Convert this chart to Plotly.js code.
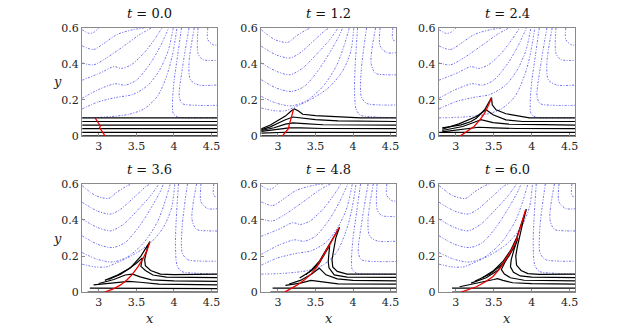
<!DOCTYPE html>
<html>
<head>
<meta charset="utf-8">
<script src="https://cdn.plot.ly/plotly-3.0.1.min.js"></script>
<style>body{margin:0;background:#fff}#myViz{width:635px;height:329px}</style>
</head>
<body>
<div id="myViz"></div>
<script>
// snapshot times, one panel each
var times = ['0.0', '1.2', '2.4', '3.6', '4.8', '6.0'];
var xTicks = [3, 3.5, 4, 4.5];
var yTicks = [0, 0.2, 0.4, 0.6];

// blue field lines, wavy state (t = 0.0, 2.4, 4.8)
var blueWavy = [
  [[2.78,0.59],[2.87,0.57],[2.93,0.575],[3.0,0.6]],
  [[2.78,0.5],[2.93,0.48],[3.07,0.515],[3.24,0.563],[3.45,0.59],[3.6,0.6]],
  [[2.78,0.405],[2.93,0.395],[3.09,0.43],[3.25,0.475],[3.4,0.52],[3.55,0.565],[3.7,0.6]],
  [[2.78,0.31],[3.02,0.35],[3.2,0.385],[3.3,0.375],[3.43,0.395],[3.6,0.46],[3.73,0.53],[3.84,0.6]],
  [[2.78,0.21],[3.02,0.262],[3.22,0.29],[3.35,0.282],[3.5,0.31],[3.68,0.4],[3.82,0.5],[3.93,0.6]],
  [[2.78,0.15],[3.0,0.19],[3.25,0.215],[3.45,0.23],[3.65,0.28],[3.8,0.36],[3.92,0.47],[3.99,0.6]],
  [[2.78,0.1],[3.1,0.105],[3.4,0.12],[3.6,0.15],[3.78,0.22],[3.9,0.33],[3.98,0.45],[4.04,0.6]]
];
var rightWavy = [
  [[4.1,0.6],[4.05,0.45],[4.0,0.3],[3.98,0.18],[3.99,0.125],[4.05,0.105],[4.3,0.1],[4.58,0.1]],
  [[4.2,0.6],[4.11,0.37],[4.07,0.22],[4.11,0.18],[4.29,0.17],[4.58,0.17]],
  [[4.27,0.6],[4.2,0.404],[4.22,0.311],[4.33,0.283],[4.58,0.283]],
  [[4.32,0.6],[4.32,0.46],[4.38,0.425],[4.58,0.42]],
  [[4.45,0.6],[4.45,0.535],[4.52,0.507],[4.58,0.505]]
];

// blue field lines, dipped state (t = 1.2, 3.6, 6.0)
var blueDip = [
  [[2.78,0.59],[2.96,0.535],[3.13,0.52],[3.24,0.554],[3.38,0.59],[3.44,0.6]],
  [[2.78,0.498],[2.98,0.45],[3.16,0.433],[3.29,0.46],[3.47,0.526],[3.64,0.59],[3.69,0.6]],
  [[2.78,0.405],[2.98,0.359],[3.16,0.34],[3.33,0.377],[3.51,0.452],[3.69,0.535],[3.8,0.6]],
  [[2.78,0.312],[2.98,0.266],[3.18,0.247],[3.35,0.275],[3.53,0.36],[3.7,0.47],[3.82,0.56],[3.86,0.6]],
  [[2.78,0.219],[2.98,0.182],[3.18,0.167],[3.38,0.195],[3.6,0.275],[3.78,0.39],[3.88,0.5],[3.95,0.6]],
  [[2.78,0.155],[2.95,0.14],[3.1,0.14],[3.25,0.165],[3.45,0.205],[3.68,0.27],[3.86,0.36],[3.97,0.47],[4.01,0.6]]
];
var rightDip = [
  [[4.06,0.6],[4.03,0.4],[4.02,0.27],[4.04,0.15],[4.1,0.115],[4.3,0.105],[4.58,0.1]],
  [[4.18,0.6],[4.11,0.367],[4.11,0.218],[4.18,0.181],[4.35,0.172],[4.58,0.172]],
  [[4.3,0.6],[4.24,0.404],[4.3,0.348],[4.45,0.34],[4.58,0.339]],
  [[4.36,0.6],[4.36,0.5],[4.45,0.463],[4.58,0.463]],
  [[4.53,0.6],[4.53,0.535],[4.58,0.526]]
];

// black material lines per time
var black00 = [
  [[2.78,0.1],[4.58,0.1]],
  [[2.78,0.08],[4.58,0.08]],
  [[2.78,0.06],[4.58,0.06]],
  [[2.78,0.04],[4.58,0.04]],
  [[2.78,0.02],[4.58,0.02]],
  [[2.78,0.0],[4.58,0.0]]
];
var black12 = [
  [[2.78,0.04],[2.9,0.06],[3.0,0.085],[3.1,0.11],[3.18,0.14],[3.22,0.15],[3.27,0.14],[3.33,0.12],[3.5,0.113],[3.8,0.105],[4.1,0.1],[4.58,0.1]],
  [[2.78,0.035],[2.9,0.05],[3.0,0.07],[3.1,0.09],[3.2,0.105],[3.3,0.1],[3.5,0.09],[3.8,0.083],[4.58,0.08]],
  [[2.78,0.03],[2.95,0.045],[3.1,0.065],[3.2,0.072],[3.35,0.068],[3.6,0.062],[4.58,0.06]],
  [[2.78,0.025],[3.0,0.035],[3.15,0.045],[3.3,0.045],[3.6,0.041],[4.58,0.04]],
  [[2.78,0.015],[3.1,0.02],[4.58,0.02]],
  [[2.78,0.0],[4.58,0.0]]
];
var black24 = [
  [[2.82,0.045],[3.07,0.061],[3.2,0.08],[3.27,0.098],[3.38,0.145],[3.47,0.213],[3.48,0.173],[3.53,0.145],[3.66,0.123],[3.84,0.108],[3.97,0.1],[4.58,0.1]],
  [[2.82,0.037],[3.04,0.067],[3.27,0.108],[3.4,0.145],[3.49,0.117],[3.66,0.089],[3.88,0.08],[4.58,0.08]],
  [[2.82,0.03],[3.09,0.052],[3.27,0.08],[3.33,0.09],[3.49,0.074],[3.7,0.065],[4.58,0.06]],
  [[2.82,0.022],[3.1,0.035],[3.3,0.048],[3.5,0.045],[3.8,0.041],[4.58,0.04]],
  [[2.78,0.02],[4.58,0.02]],
  [[2.78,0.0],[4.58,0.0]]
];
var black36 = [
  [[3.13,0.07],[3.29,0.1],[3.42,0.135],[3.56,0.2],[3.68,0.28],[3.64,0.235],[3.61,0.18],[3.62,0.146],[3.69,0.12],[3.82,0.1],[4.0,0.097],[4.58,0.1]],
  [[3.08,0.065],[3.25,0.095],[3.4,0.13],[3.5,0.16],[3.58,0.19],[3.57,0.16],[3.56,0.143],[3.62,0.12],[3.72,0.095],[3.9,0.083],[4.58,0.08]],
  [[3.0,0.048],[3.2,0.07],[3.35,0.095],[3.45,0.1],[3.55,0.085],[3.7,0.068],[4.0,0.062],[4.58,0.06]],
  [[2.93,0.04],[3.2,0.05],[3.4,0.06],[3.55,0.055],[3.8,0.045],[4.58,0.04]],
  [[2.88,0.022],[3.3,0.022],[4.58,0.02]],
  [[2.85,0.0],[4.58,0.0]]
];
var black48 = [
  [[3.37,0.096],[3.45,0.125],[3.55,0.17],[3.65,0.24],[3.75,0.31],[3.82,0.36],[3.77,0.3],[3.74,0.24],[3.72,0.18],[3.73,0.14],[3.79,0.115],[3.92,0.1],[4.1,0.1],[4.58,0.1]],
  [[3.29,0.078],[3.45,0.12],[3.55,0.16],[3.64,0.22],[3.69,0.26],[3.68,0.22],[3.67,0.17],[3.68,0.135],[3.75,0.096],[3.92,0.083],[4.58,0.082]],
  [[3.15,0.045],[3.3,0.065],[3.45,0.1],[3.55,0.133],[3.64,0.096],[3.79,0.074],[4.0,0.065],[4.58,0.062]],
  [[3.1,0.038],[3.3,0.05],[3.44,0.065],[3.57,0.059],[3.8,0.046],[4.58,0.045]],
  [[2.93,0.022],[4.58,0.022]],
  [[2.9,0.0],[4.58,0.0]]
];
var black60 = [
  [[3.35,0.08],[3.5,0.12],[3.62,0.17],[3.72,0.23],[3.8,0.3],[3.87,0.38],[3.93,0.46],[3.88,0.38],[3.84,0.31],[3.81,0.25],[3.79,0.2],[3.8,0.15],[3.86,0.12],[3.95,0.103],[4.1,0.098],[4.58,0.1]],
  [[3.25,0.06],[3.45,0.1],[3.6,0.15],[3.7,0.2],[3.78,0.26],[3.82,0.3],[3.77,0.24],[3.73,0.18],[3.72,0.14],[3.76,0.11],[3.85,0.09],[4.0,0.083],[4.58,0.08]],
  [[3.2,0.05],[3.4,0.08],[3.55,0.12],[3.65,0.17],[3.68,0.19],[3.64,0.16],[3.6,0.125],[3.64,0.1],[3.72,0.08],[3.9,0.066],[4.58,0.062]],
  [[3.05,0.03],[3.3,0.05],[3.5,0.07],[3.55,0.075],[3.62,0.065],[3.75,0.052],[4.0,0.047],[4.58,0.045]],
  [[2.95,0.022],[4.58,0.022]],
  [[2.95,0.0],[4.58,0.0]]
];

// red curve per time
var red00 = [[2.95,0.1],[2.97,0.085],[3.0,0.07],[3.02,0.055],[3.01,0.045],[3.04,0.03],[3.06,0.015],[3.08,0]];
var red12 = [[3.06,0],[3.1,0.02],[3.14,0.04],[3.15,0.06],[3.18,0.1],[3.21,0.15]];
var red24 = [[3.06,0],[3.15,0.025],[3.24,0.052],[3.32,0.09],[3.38,0.126],[3.43,0.17],[3.47,0.21]];
var red36 = [[3.08,0],[3.2,0.02],[3.29,0.04],[3.38,0.07],[3.44,0.096],[3.52,0.14],[3.58,0.18],[3.64,0.23],[3.68,0.28]];
var red48 = [[3.09,0],[3.18,0.02],[3.26,0.04],[3.36,0.07],[3.44,0.1],[3.52,0.14],[3.57,0.18],[3.64,0.23],[3.7,0.27],[3.76,0.315],[3.81,0.355]];
var red60 = [[3.07,0],[3.17,0.015],[3.27,0.03],[3.38,0.055],[3.49,0.087],[3.58,0.13],[3.66,0.18],[3.73,0.23],[3.8,0.29],[3.86,0.37],[3.92,0.457]];

var panels = [
  {blue: blueWavy, right: rightWavy, black: black00, red: red00},
  {blue: blueDip,  right: rightDip,  black: black12, red: red12},
  {blue: blueWavy, right: rightWavy, black: black24, red: red24},
  {blue: blueDip,  right: rightDip,  black: black36, red: red36},
  {blue: blueWavy, right: rightWavy, black: black48, red: red48},
  {blue: blueDip,  right: rightDip,  black: black60, red: red60}
];

var cols = [[0.129, 0.342], [0.411, 0.624], [0.691, 0.906]];
var rows = [[0.587, 0.915], [0.112, 0.441]];
var serif = '"DejaVu Serif", "Liberation Serif", serif';

function line(pts, ax, style) {
  return {
    x: pts.map(function (p) { return p[0]; }),
    y: pts.map(function (p) { return p[1]; }),
    xaxis: 'x' + ax, yaxis: 'y' + ax,
    mode: 'lines', showlegend: false, hoverinfo: 'skip',
    line: style
  };
}

var data = [];
var layout = {
  width: 635, height: 329,
  margin: {l: 0, r: 0, t: 0, b: 0},
  paper_bgcolor: '#fff', plot_bgcolor: '#fff',
  annotations: []
};

panels.forEach(function (p, i) {
  var ax = i === 0 ? '' : String(i + 1);
  var blueStyle = {color: 'rgb(75,75,240)', width: 0.8, dash: '2px,1.5px,1px,1.5px', shape: 'spline', smoothing: 0.8};
  p.blue.concat(p.right).forEach(function (c) { data.push(line(c, ax, blueStyle)); });
  p.black.forEach(function (c) { data.push(line(c, ax, {color: 'black', width: 1.2})); });
  data.push(line(p.red, ax, {color: 'rgb(240,0,0)', width: 1.3}));

  var c = cols[i % 3], r = rows[Math.floor(i / 3)];
  var axStyle = {
    showline: true, mirror: true, linecolor: '#8a8a8a', linewidth: 1,
    ticks: 'inside', ticklen: 3, tickcolor: '#8a8a8a',
    showgrid: false, zeroline: false,
    tickfont: {family: serif, size: 11, color: '#222'}
  };
  layout['xaxis' + ax] = Object.assign({}, axStyle, {
    domain: c, range: [2.775, 4.575], tickvals: xTicks, anchor: 'y' + ax
  });
  layout['yaxis' + ax] = Object.assign({}, axStyle, {
    domain: r, range: [0, 0.6], tickvals: yTicks, anchor: 'x' + ax
  });

  layout.annotations.push({
    text: '<i>t</i> = ' + times[i], xref: 'paper', yref: 'paper',
    x: (c[0] + c[1]) / 2, y: r[1] + 0.045, xanchor: 'center', yanchor: 'middle',
    showarrow: false, font: {family: serif, size: 13, color: '#111'}
  });
  if (i >= 3) {
    layout.annotations.push({
      text: '<i>x</i>', xref: 'paper', yref: 'paper',
      x: (c[0] + c[1]) / 2, y: 0.033, xanchor: 'center', yanchor: 'middle',
      showarrow: false, font: {family: serif, size: 13, color: '#222'}
    });
  }
  if (i % 3 === 0) {
    layout.annotations.push({
      text: '<i>y</i>', xref: 'paper', yref: 'paper',
      x: 0.091, y: (r[0] + r[1]) / 2, xanchor: 'center', yanchor: 'middle',
      showarrow: false, font: {family: serif, size: 13, color: '#222'}
    });
  }
});

Plotly.newPlot('myViz', data, layout, {displayModeBar: false, staticPlot: true});
</script>
</body>
</html>
